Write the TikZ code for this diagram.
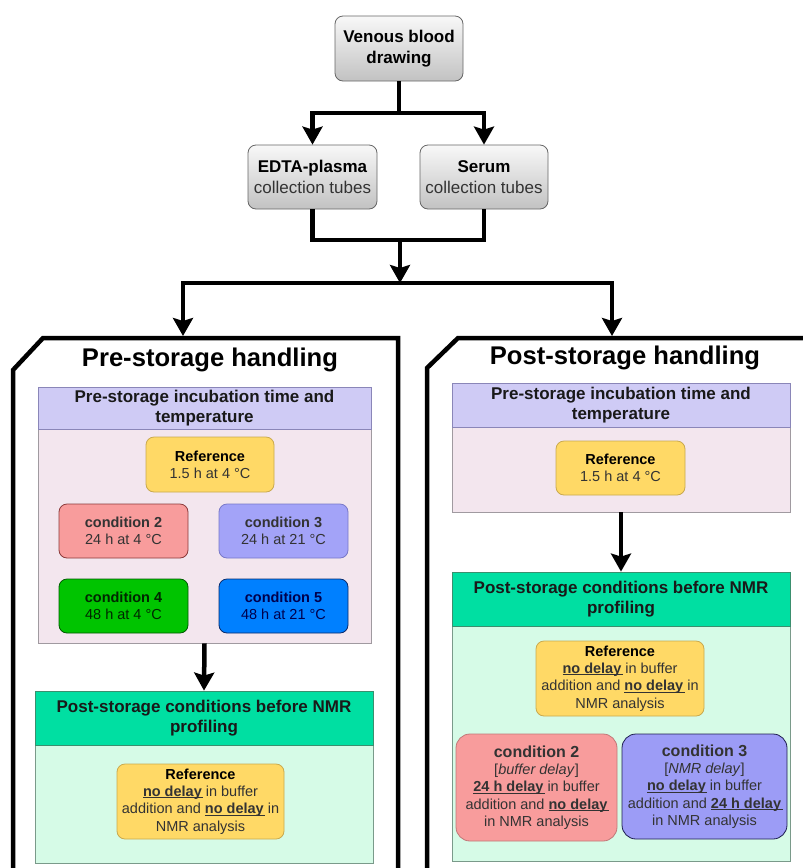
\documentclass[tikz,border=0pt]{standalone}
\usepackage{fontspec}
\setmainfont{Liberation Sans}
\usetikzlibrary{arrows.meta}
\definecolor{graytop}{HTML}{F8F8F8}
\definecolor{graybot}{HTML}{C2C2C2}
\definecolor{grayedge}{HTML}{666666}
\definecolor{purp}{HTML}{CFCBF5}
\definecolor{purpedge}{HTML}{8A86B8}
\definecolor{pinkbg}{HTML}{F3E6EE}
\definecolor{pinkedge}{HTML}{A09AA0}
\definecolor{ghdr}{HTML}{00DFA2}
\definecolor{ghdredge}{HTML}{3A8F6E}
\definecolor{gbg}{HTML}{D6FBE7}
\definecolor{gbgedge}{HTML}{7A9A8A}
\definecolor{refy}{HTML}{FFD966}
\definecolor{refyedge}{HTML}{C9A94E}
\definecolor{ctwo}{HTML}{F89C9C}
\definecolor{ctwoedge}{HTML}{8B3A3A}
\definecolor{ctwoedgeb}{HTML}{C07878}
\definecolor{cthree}{HTML}{A3A3F8}
\definecolor{cthreeedge}{HTML}{7878C8}
\definecolor{cthreeb}{HTML}{9C9CF6}
\definecolor{cthreeedgeb}{HTML}{1E1E50}
\definecolor{cfour}{HTML}{00C400}
\definecolor{cfouredge}{HTML}{005A00}
\definecolor{cfive}{HTML}{0080FF}
\definecolor{cfiveedge}{HTML}{0A2A6A}
\definecolor{txt}{HTML}{333333}
\newcommand\fgray{\fontsize{17}{21}\selectfont}
\newcommand\fhdr{\fontsize{17}{20}\selectfont}
\newcommand\fcond{\fontsize{14.5}{17.3}\selectfont}
\newcommand\fcondt{\fontsize{16}{17.5}\selectfont}
\newcommand\fttl{\fontsize{25.6}{30}\selectfont}
\newcommand\ud[1]{{\setbox0\hbox{\textbf{#1}}\rlap{\rule[-1.8pt]{\dimexpr\wd0+1.5pt\relax}{1.1pt}}\box0}}
\begin{document}
\begin{tikzpicture}[x=1pt,y=-1pt,
  conn/.style={line width=4.5pt, black},
  arr/.style={-{Stealth[length=18pt,width=20pt,inset=3pt]}},
  panel/.style={line width=4.5pt, black, line join=miter},
  graybox/.style={draw=grayedge, line width=0.8pt, rounded corners=8pt, top color=graytop, bottom color=graybot, align=center, inner sep=0pt, font=\fgray},
  hdr/.style={draw=#1, line width=0.8pt, align=center, inner sep=0pt, font=\fhdr\bfseries, text=black!90},
  sect/.style={draw=#1, line width=0.8pt, inner sep=0pt},
  cond/.style={draw=#1, line width=0.8pt, rounded corners=8pt, align=center, inner sep=0pt, font=\fcond, text=txt},
  ttl/.style={font=\fttl\bfseries, inner sep=0pt}
]
\useasboundingbox (0,0) rectangle (803,868);
\clip (0,0) rectangle (803,868);

% top flow
\node[graybox, minimum width=128pt, minimum height=65pt] (ven) at (399,48.5) {\textbf{Venous blood}\\\textbf{drawing}};
\node[graybox, minimum width=129pt, minimum height=64pt] (edta) at (312.5,177) {\textbf{EDTA-plasma}\\\textcolor{txt}{collection tubes}};
\node[graybox, minimum width=128pt, minimum height=64pt] (serum) at (484,177) {\textbf{Serum}\\\textcolor{txt}{collection tubes}};

\coordinate (j1) at (399,113);
\coordinate (j2) at (400,240);
\coordinate (j3) at (400,283);
\coordinate (lt) at (183,336);
\coordinate (rt) at (612,336);
\draw[conn,arr] (ven.south) -- (j1) -| (edta.north);
\draw[conn,arr] (j1) -| (serum.north);
\draw[conn] (edta.south) |- (j2) -| (serum.south);
\draw[conn,arr] (j2) -- (j3);
\draw[conn,arr] (j3) -| (lt);
\draw[conn,arr] (j3) -| (rt);

% panels
\draw[panel] (43,338) -- (398,338) -- (398,890) -- (13,890) -- (13,370) -- cycle;
\draw[panel] (458,338) -- (840,338) -- (840,890) -- (427,890) -- (427,368) -- cycle;
\node[ttl] (ltitle) at (210,360) {Pre-storage handling};
\node[ttl] (rtitle) at (625,358) {Post-storage handling};

% left panel
\node[sect=pinkedge, fill=pinkbg, minimum width=333pt, minimum height=214pt] (lpb) at (204.5,536) {};
\node[hdr=purpedge, fill=purp, minimum width=333pt, minimum height=42pt] (lph) at (204.5,408) {Pre-storage incubation time and\\temperature};
\node[cond=refyedge, fill=refy, minimum width=128pt, minimum height=55pt] (lref) at (210,464.5) {\textbf{\textcolor{black}{Reference}}\\1.5 h at 4 °C};
\node[cond=ctwoedge, fill=ctwo, minimum width=129pt, minimum height=54pt] (lc2) at (123.5,531) {\textbf{condition 2}\\24 h at 4 °C};
\node[cond=cthreeedge, fill=cthree, minimum width=129pt, minimum height=54pt] (lc3) at (283.5,531) {\textbf{condition 3}\\24 h at 21 °C};
\node[cond=cfouredge, fill=cfour, minimum width=129pt, minimum height=54pt, text=black!85!green] (lc4) at (123.5,606) {\textbf{condition 4}\\48 h at 4 °C};
\node[cond=cfiveedge, fill=cfive, minimum width=129pt, minimum height=54pt, text=black!70!blue] (lc5) at (283.5,606) {\textbf{condition 5}\\48 h at 21 °C};

\node[sect=gbgedge, fill=gbg, minimum width=338pt, minimum height=118pt] (lgb) at (204,804) {};
\node[hdr=ghdredge, fill=ghdr, minimum width=338pt, minimum height=54pt] (lgh) at (204,718) {Post-storage conditions before NMR\\profiling};
\node[cond=refyedge, fill=refy, minimum width=167pt, minimum height=75pt] (lref2) at (200.5,801.5) {\textbf{\textcolor{black}{Reference}}\\\ud{no delay} in buffer\\addition and \ud{no delay} in\\NMR analysis};
\draw[conn,arr] (lpb.south) -- (lgh.north);

% right panel
\node[sect=pinkedge, fill=pinkbg, minimum width=338pt, minimum height=85pt] (rpb) at (621,469.5) {};
\node[hdr=purpedge, fill=purp, minimum width=338pt, minimum height=44pt] (rph) at (621,405) {Pre-storage incubation time and\\temperature};
\node[cond=refyedge, fill=refy, minimum width=129pt, minimum height=54pt] (rref) at (620.5,468) {\textbf{\textcolor{black}{Reference}}\\1.5 h at 4 °C};

\node[sect=gbgedge, fill=gbg, minimum width=338pt, minimum height=235pt] (rgb) at (621,743.5) {};
\node[hdr=ghdredge, fill=ghdr, minimum width=338pt, minimum height=54pt] (rgh) at (621,599) {Post-storage conditions before NMR\\profiling};
\draw[conn,arr] (rpb.south) -- (rgh.north);
\node[cond=refyedge, fill=refy, minimum width=168pt, minimum height=75pt] (rref2) at (620,678.5) {\textbf{\textcolor{black}{Reference}}\\\ud{no delay} in buffer\\addition and \ud{no delay} in\\NMR analysis};
\node[cond=ctwoedgeb, fill=ctwo, minimum width=161pt, minimum height=107pt, rounded corners=14pt] (rc2) at (536.5,787.5) {{\fcondt\textbf{condition 2}}\\{[}\textit{buffer delay}{]}\\\ud{24 h delay} in buffer\\addition and \ud{no delay}\\in NMR analysis};
\node[cond=cthreeedgeb, fill=cthreeb, minimum width=165pt, minimum height=105pt, rounded corners=14pt] (rc3) at (704.5,786.5) {{\fcondt\textbf{condition 3}}\\{[}\textit{NMR delay}{]}\\\ud{no delay} in buffer\\addition and \ud{24 h delay}\\in NMR analysis};
\end{tikzpicture}
\end{document}
